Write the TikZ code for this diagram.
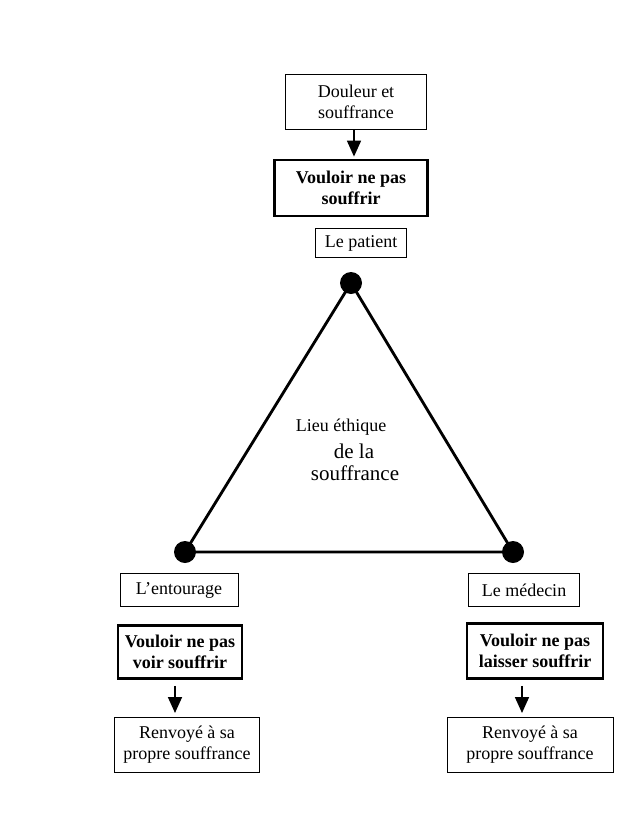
\documentclass[tikz,border=0pt]{standalone}
\usepackage{fontspec}
\setmainfont{Liberation Serif}
\usetikzlibrary{arrows.meta}
\tikzset{
	box/.style={draw, line width=0.35mm, inner sep=0pt, align=center, font=\fontsize{18}{21}\selectfont},
	boldbox/.style={box, line width=1mm, font=\fontsize{18}{21}\selectfont\bfseries},
	dot/.style={circle, fill=black, inner sep=0pt, minimum size=22pt},
	down/.style={line width=0.6mm, -{Triangle[length=16pt,width=14pt]}}
}

\begin{document}
\begin{tikzpicture}[x=1pt, y=-1pt]
			%%%%% START %%%%%
			
			\useasboundingbox (0, 0) rectangle (635, 817);
			
			\node[box, minimum width=141pt, minimum height=55pt] (douleur) at (356, 102) {Douleur et\\souffrance};
			\node[boldbox, minimum width=153pt, minimum height=56pt] (patientVeut) at (351, 188) {Vouloir ne pas\\souffrir};
			\node[box, minimum width=91pt, minimum height=29pt] (patient) at (361, 243) {Le patient};
			\draw[down, shorten >=2pt] ([xshift=-2pt]douleur.south) -- ([xshift=3pt]patientVeut.north);
			
			\node[dot] (sommet) at (351, 283) {};
			\node[dot] (gauche) at (185, 552) {};
			\node[dot] (droite) at (513, 552) {};
			\draw[line width=1mm] (sommet.center) -- (gauche.center) -- (droite.center) -- cycle;
			
			\node[font=\fontsize{18}{21}\selectfont] (lieu) at (341, 427) {Lieu éthique};
			\node[font=\fontsize{21}{24}\selectfont] (dela) at (354, 451) {de la};
			\node[font=\fontsize{21}{24}\selectfont] (souff) at (355, 473) {souffrance};
			
			\node[box, minimum width=118pt, minimum height=33pt] (entourage) at (179, 590) {L’entourage};
			\node[boldbox, minimum width=124pt, minimum height=53pt] (entourageVeut) at (180, 652) {Vouloir ne pas\\voir souffrir};
			\node[box, minimum width=145pt, minimum height=55pt] (renvoiG) at (187, 745) {Renvoyé à sa\\propre souffrance};
			\draw[down, shorten <=6pt, shorten >=4pt] ([xshift=-5pt]entourageVeut.south) -- ([xshift=-12pt]renvoiG.north);
			
			\node[box, minimum width=111pt, minimum height=33pt] (medecin) at (524, 590) {Le médecin};
			\node[boldbox, minimum width=136pt, minimum height=55pt] (medecinVeut) at (535, 651) {Vouloir ne pas\\laisser souffrir};
			\node[box, minimum width=166pt, minimum height=55pt] (renvoiD) at (530, 745) {Renvoyé à sa\\propre souffrance};
			\draw[down, shorten <=6pt, shorten >=4pt] ([xshift=-13pt]medecinVeut.south) -- ([xshift=-8pt]renvoiD.north);
			
			%%%%% END %%%%%
		\end{tikzpicture}
\end{document}
